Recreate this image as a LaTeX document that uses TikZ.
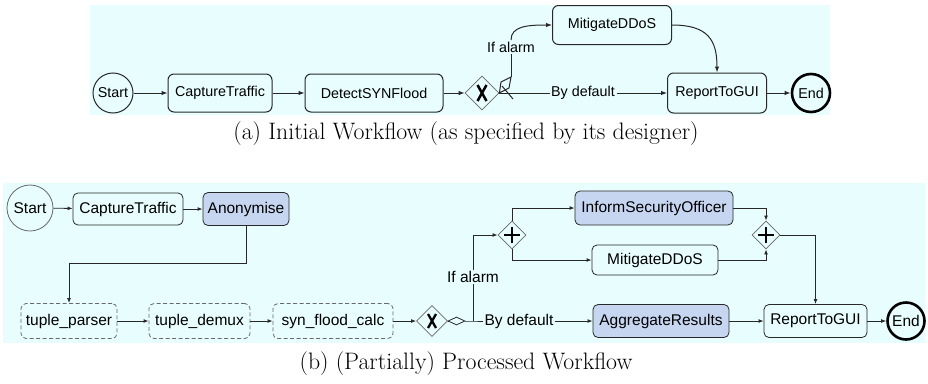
\documentclass[tikz,border=0pt]{standalone}
\usepackage{fontspec}
\newfontfamily\arialf{Liberation Sans}
\usetikzlibrary{arrows.meta,shapes.geometric}
\definecolor{bgc}{RGB}{232,253,253}
\definecolor{bluef}{RGB}{198,214,241}
\definecolor{linec}{RGB}{40,40,40}
\definecolor{gwc}{RGB}{105,105,105}
\tikzset{
  fonttop/.style={font=\arialf\fontsize{14.3}{16}\selectfont},
  fontbot/.style={font=\arialf\fontsize{15.5}{17}\selectfont},
  task/.style={draw=linec, line width=1pt, rounded corners=6pt, inner sep=0pt, fonttop},
  taskb/.style={draw=linec, line width=0.8pt, rounded corners=5pt, inner sep=0pt, fontbot},
  dtask/.style={taskb, dashed, dash pattern=on 4pt off 2.5pt, draw=gwc},
  startev/.style={circle, draw=linec, line width=1pt, inner sep=0pt, fonttop},
  startevb/.style={circle, draw=gwc, line width=0.8pt, inner sep=0pt, fontbot},
  endev/.style={circle, draw=black, line width=2.6pt, inner sep=0pt, fonttop},
  endevb/.style={circle, draw=black, line width=2.6pt, inner sep=0pt, fontbot},
  gw/.style={diamond, draw=gwc, line width=0.8pt, inner sep=0pt, minimum width=34pt, minimum height=34pt},
  gwb/.style={diamond, draw=gwc, line width=0.8pt, inner sep=0pt, minimum width=31pt, minimum height=31pt},
  gwp/.style={diamond, draw=gwc, line width=0.8pt, inner sep=0pt, minimum width=28pt, minimum height=28pt},
  gmark/.style={draw=black, line width=2.5pt},
  lbl/.style={inner sep=1.5pt, fonttop},
  lblb/.style={inner sep=1.5pt, fontbot},
  captext/.style={font=\fontsize{23.8}{26}\selectfont},
  conn/.style={draw=linec, line width=1pt, -{Latex[length=6pt,width=4.5pt]}},
  connb/.style={draw=linec, line width=0.8pt, -{Latex[length=5pt,width=3.8pt]}},
  plain/.style={draw=linec, line width=1pt},
  plainb/.style={draw=linec, line width=0.8pt},
}
\begin{document}
\begin{tikzpicture}[x=1pt,y=-1pt]
\useasboundingbox (0,0) rectangle (928,383);
\fill[bgc] (90,5) rectangle (830,115);
\fill[bgc] (3,183) rectangle (925,343);

% ---------- top workflow ----------
\node[startev, minimum size=40pt] (s1) at (113,93) {Start};
\node[task, minimum width=104pt, minimum height=38pt] (ct1) at (220,93) {CaptureTraffic};
\node[task, minimum width=138pt, minimum height=38pt] (ds1) at (374,93) {DetectSYNFlood};
\node[gw] (g1) at (482,93) {};
\node[task, minimum width=119pt, minimum height=39pt] (md1) at (612,25) {MitigateDDoS};
\node[task, minimum width=99pt, minimum height=40pt] (rg1) at (717,93) {ReportToGUI};
\node[endev, minimum size=38pt] (e1) at (811,93) {End};
\node[lbl] (ia1) at (511,47) {If alarm};
\node[lbl] (bd1) at (583,93) {By default};

\draw[gmark] ([shift={(-4.5pt,8pt)}]g1.center) -- ([shift={(4.5pt,-8pt)}]g1.center);
\draw[gmark] ([shift={(4.5pt,8pt)}]g1.center) -- ([shift={(-4.5pt,-8pt)}]g1.center);

\draw[conn] (s1) -- (ct1);
\draw[conn] (ct1) -- (ds1);
\draw[conn] (ds1) -- (g1);
\draw[plain] (g1.east) -- (bd1.west);
\draw[conn] (bd1.east) -- (rg1.west);
\coordinate (c1a) at (509,88);
\coordinate (c1b) at (511,77);
\coordinate (c1c) at (501,82);
\draw[plain, line join=miter] (g1.east) -- (c1a) -- (c1b) -- (c1c) -- cycle;
\draw[plain] (c1b) -- (ia1.south);
\draw[conn] (ia1.north) .. controls (511,26) and (528,25) .. (md1.west);
\coordinate (sl1a) at (502,86);
\coordinate (sl1b) at (513,99);
\draw[plain] (sl1a) -- (sl1b);
\draw[conn] (md1.east) .. controls (708,25) and (717,40) .. (rg1.north);
\draw[conn] (rg1) -- (e1);

\node[captext] (capa) at (466,134) {(a) Initial Workflow (as specified by its designer)};

% ---------- bottom workflow ----------
\node[startevb, minimum size=46pt] (s2) at (30,208) {Start};
\node[taskb, minimum width=110pt, minimum height=32pt] (ct2) at (128,209) {CaptureTraffic};
\node[taskb, fill=bluef, minimum width=86pt, minimum height=33pt] (an2) at (246,209) {Anonymise};
\node[dtask, minimum width=96pt, minimum height=35pt] (tp2) at (69,321) {tuple\_parser};
\node[dtask, minimum width=101pt, minimum height=35pt] (td2) at (199.5,321) {tuple\_demux};
\node[dtask, minimum width=120pt, minimum height=35pt] (sf2) at (333,321) {syn\_flood\_calc};
\node[gwb] (g2) at (432,321) {};
\node[diamond, draw=linec, line width=0.8pt, inner sep=0pt, minimum width=17pt, minimum height=8pt] (sd2) at (456.5,321) {};
\coordinate (j2) at (473,321);
\node[lblb] (ia2) at (473,277) {If alarm};
\node[lblb] (bd2) at (519,321) {By default};
\node[gwp] (p1) at (512,235) {};
\node[taskb, fill=bluef, minimum width=158pt, minimum height=34pt] (is2) at (654,208) {InformSecurityOfficer};
\node[taskb, minimum width=126pt, minimum height=30pt] (md2) at (655,260) {MitigateDDoS};
\node[gwp] (p2) at (766,235) {};
\node[taskb, fill=bluef, minimum width=136pt, minimum height=33pt] (ag2) at (661,321) {AggregateResults};
\node[taskb, minimum width=103pt, minimum height=33pt] (rg2) at (815.5,321) {ReportToGUI};
\node[endevb, minimum size=37pt] (e2) at (906,321) {End};

\draw[gmark, line width=2.3pt] ([shift={(-4pt,7pt)}]g2.center) -- ([shift={(4pt,-7pt)}]g2.center);
\draw[gmark, line width=2.3pt] ([shift={(4pt,7pt)}]g2.center) -- ([shift={(-4pt,-7pt)}]g2.center);
\draw[gmark] ([xshift=-8pt]p1.center) -- ([xshift=8pt]p1.center);
\draw[gmark] ([yshift=-8pt]p1.center) -- ([yshift=8pt]p1.center);
\draw[gmark] ([xshift=-8pt]p2.center) -- ([xshift=8pt]p2.center);
\draw[gmark] ([yshift=-8pt]p2.center) -- ([yshift=8pt]p2.center);

\draw[connb] (s2) -- (ct2);
\draw[connb] (ct2) -- (an2);
\draw[connb] (an2.south) -- ++(0,37) -| (tp2.north);
\draw[connb] (tp2) -- (td2);
\draw[connb] (td2) -- (sf2);
\draw[connb] (sf2) -- (g2);
\draw[plainb] (g2.east) -- (sd2.west);
\draw[plainb] (sd2.east) -- (j2) -- (bd2.west);
\draw[connb] (bd2.east) -- (ag2.west);
\draw[plainb] (j2) -- (ia2.south);
\draw[connb] (ia2.north) |- (p1.west);
\draw[connb] (p1.north) |- (is2.west);
\draw[connb] (p1.south) |- (md2.west);
\draw[connb] (is2.east) -| (p2.north);
\draw[connb] (md2.east) -| (p2.south);
\draw[connb] (p2.east) -| (rg2.north);
\draw[connb] (ag2) -- (rg2);
\draw[connb] (rg2) -- (e2);

\node[captext] (capb) at (466,364) {(b) (Partially) Processed Workflow};
\end{tikzpicture}
\end{document}
